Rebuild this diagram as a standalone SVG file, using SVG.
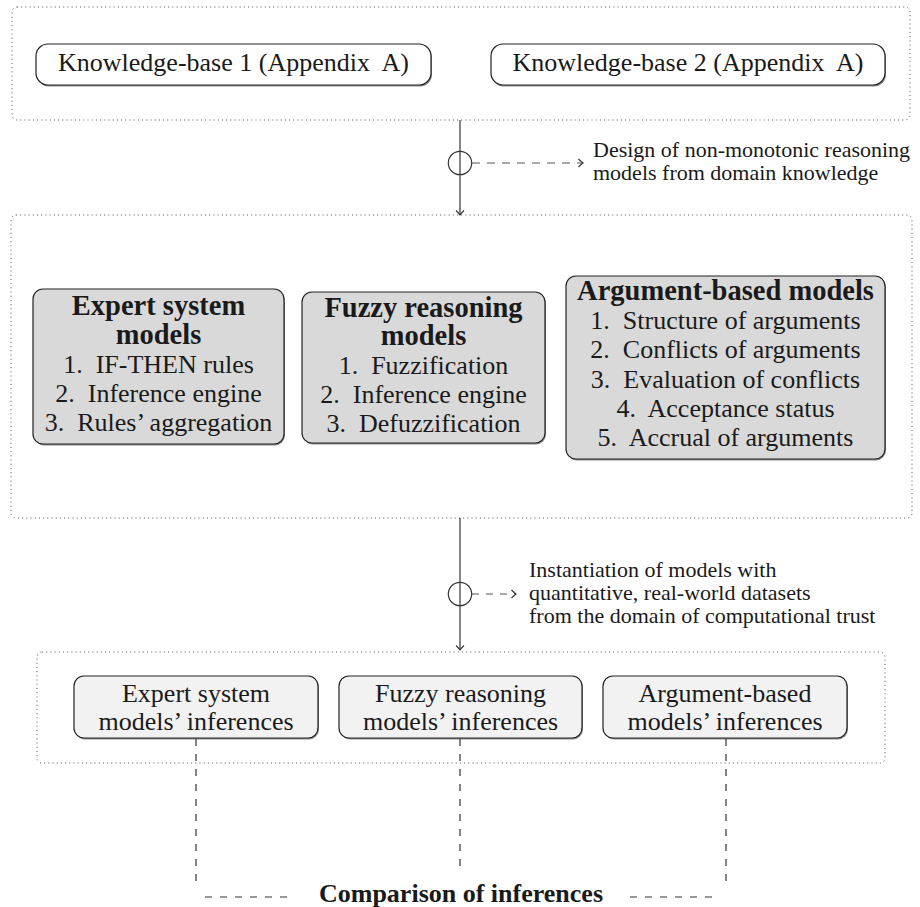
<svg xmlns="http://www.w3.org/2000/svg" width="920" height="907" viewBox="0 0 920 907" font-family="'Liberation Serif', 'DejaVu Serif', 'Noto Serif', 'Times New Roman', Times, serif">
<defs>
<marker id="arr" viewBox="-6 -5 8 10" refX="0" refY="0" markerWidth="8" markerHeight="10" markerUnits="userSpaceOnUse" orient="auto">
<path d="M -4.5 -4 Q -1.5 -1 0 0 Q -1.5 1 -4.5 4" fill="none" stroke="#333" stroke-width="1.1"/>
</marker>
</defs>
<style>
text{font-family:'Liberation Serif','DejaVu Serif','Noto Serif','Times New Roman',Times,serif;fill:#1a1a1a;text-anchor:middle}
.t{font-size:26px}
.b{font-size:28.5px;font-weight:bold}
.s{font-size:22px;text-anchor:start}
.cont{fill:none;stroke:#555;stroke-width:1;stroke-dasharray:1 3.2}
.kb{fill:#fff;stroke:#222;stroke-width:1.2}
.gb{fill:#d9d9d9;stroke:#222;stroke-width:1.2}
.ib{fill:#f2f2f2;stroke:#222;stroke-width:1.2}
.sh{fill:#8a8a8a;stroke:none}
.ln{fill:none;stroke:#333;stroke-width:1.2}
.da{fill:none;stroke:#555;stroke-width:1.2}
.dl{fill:none;stroke:#333;stroke-width:1.2;stroke-dasharray:7 8}
</style>

<g id="container-knowledge">
<rect class="cont" x="12" y="7" width="898" height="113" rx="5"/>
</g>
<g id="container-models">
<rect class="cont" x="11" y="215" width="901" height="303" rx="5"/>
</g>
<g id="container-inferences">
<rect class="cont" x="37" y="652" width="848" height="111" rx="5"/>
</g>

<g id="kb1">
<rect class="sh" x="37" y="45.5" width="395" height="41" rx="12"/>
<rect class="kb" x="36" y="44" width="395" height="41" rx="12"/>
<text class="t" x="233.5" y="71" xml:space="preserve">Knowledge-base 1 (Appendix  A)</text>
</g>
<g id="kb2">
<rect class="sh" x="492" y="45.5" width="394" height="41" rx="12"/>
<rect class="kb" x="491" y="44" width="394" height="41" rx="12"/>
<text class="t" x="688" y="71" xml:space="preserve">Knowledge-base 2 (Appendix  A)</text>
</g>

<g id="expert-models">
<rect class="sh" x="34" y="290.5" width="251" height="155" rx="10"/>
<rect class="gb" x="33" y="289" width="251" height="155" rx="10"/>
<text class="b" x="158.5" y="315">Expert system</text>
<text class="b" x="158.5" y="344">models</text>
<text class="t" x="158.5" y="373" xml:space="preserve">1.  IF-THEN rules</text>
<text class="t" x="158.5" y="402" xml:space="preserve">2.  Inference engine</text>
<text class="t" x="158.5" y="431" xml:space="preserve">3.  Rules’ aggregation</text>
</g>
<g id="fuzzy-models">
<rect class="sh" x="303" y="293.5" width="243" height="151" rx="10"/>
<rect class="gb" x="302" y="292" width="243" height="151" rx="10"/>
<text class="b" x="423.5" y="317">Fuzzy reasoning</text>
<text class="b" x="423.5" y="345">models</text>
<text class="t" x="423.5" y="374" xml:space="preserve">1.  Fuzzification</text>
<text class="t" x="423.5" y="403" xml:space="preserve">2.  Inference engine</text>
<text class="t" x="423.5" y="432" xml:space="preserve">3.  Defuzzification</text>
</g>
<g id="argument-models">
<rect class="sh" x="567" y="277.5" width="319" height="183" rx="10"/>
<rect class="gb" x="566" y="276" width="319" height="183" rx="10"/>
<text class="b" x="725.5" y="300">Argument-based models</text>
<text class="t" x="725.5" y="329" xml:space="preserve">1.  Structure of arguments</text>
<text class="t" x="725.5" y="358" xml:space="preserve">2.  Conflicts of arguments</text>
<text class="t" x="725.5" y="388" xml:space="preserve">3.  Evaluation of conflicts</text>
<text class="t" x="725.5" y="417" xml:space="preserve">4.  Acceptance status</text>
<text class="t" x="725.5" y="446" xml:space="preserve">5.  Accrual of arguments</text>
</g>

<g id="expert-inferences">
<rect class="sh" x="75" y="677.5" width="244" height="62" rx="10"/>
<rect class="ib" x="74" y="676" width="244" height="62" rx="10"/>
<text class="t" x="196" y="702">Expert system</text>
<text class="t" x="196" y="730">models’ inferences</text>
</g>
<g id="fuzzy-inferences">
<rect class="sh" x="340" y="677.5" width="243" height="62" rx="10"/>
<rect class="ib" x="339" y="676" width="243" height="62" rx="10"/>
<text class="t" x="460.5" y="702">Fuzzy reasoning</text>
<text class="t" x="460.5" y="730">models’ inferences</text>
</g>
<g id="argument-inferences">
<rect class="sh" x="604" y="677.5" width="244" height="62" rx="10"/>
<rect class="ib" x="603" y="676" width="244" height="62" rx="10"/>
<text class="t" x="725" y="702">Argument-based</text>
<text class="t" x="725" y="730">models’ inferences</text>
</g>

<g id="annotation-design">
<text class="s" x="593" y="157">Design of non-monotonic reasoning</text>
<text class="s" x="593" y="180">models from domain knowledge</text>
</g>
<g id="annotation-instantiation">
<text class="s" x="529" y="577">Instantiation of models with</text>
<text class="s" x="529" y="600">quantitative, real-world datasets</text>
<text class="s" x="529" y="623">from the domain of computational trust</text>
</g>
<g id="comparison">
<text x="461" y="902" style="font-size:26px;font-weight:bold">Comparison of inferences</text>
</g>

<g id="connectors">
<line class="ln" x1="460" y1="120" x2="460" y2="215" marker-end="url(#arr)"/>
<circle class="ln" cx="460" cy="163" r="11.7" fill="none"/>
<line class="da" x1="472" y1="163" x2="583" y2="163" stroke-dasharray="8 7" marker-end="url(#arr)"/>
<line class="ln" x1="460" y1="518" x2="460" y2="650" marker-end="url(#arr)"/>
<circle class="ln" cx="460" cy="594" r="11.7" fill="none"/>
<line class="da" x1="472" y1="594" x2="516" y2="594" stroke-dasharray="7 7" marker-end="url(#arr)"/>
<line class="dl" x1="196" y1="739" x2="196" y2="888"/>
<line class="dl" x1="460" y1="739" x2="460" y2="872"/>
<line class="dl" x1="726" y1="739" x2="726" y2="888"/>
<line class="dl" x1="205" y1="897" x2="293" y2="897"/>
<line class="dl" x1="630" y1="897" x2="718" y2="897"/>
</g>
</svg>
